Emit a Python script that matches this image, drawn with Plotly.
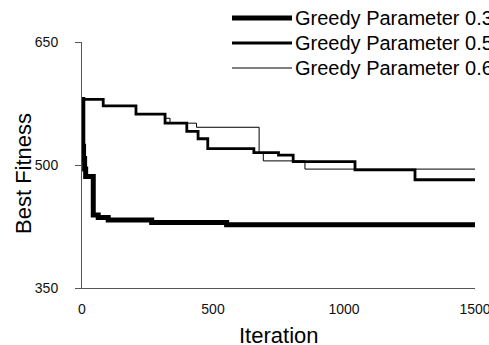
import plotly.graph_objects as go

# ---- data (step-change points) ----
series_names = ["Greedy Parameter 0.3", "Greedy Parameter 0.5", "Greedy Parameter 0.6"]

iter_03 = [0, 3, 6, 10, 14, 43, 62, 100, 266, 552, 1500]
fit_03 = [580, 523, 508, 495, 486, 439, 436, 433, 430, 427, 427]

iter_05 = [0, 81, 206, 317, 400, 443, 480, 656, 750, 806, 1042, 1271, 1500]
fit_05 = [580, 572, 562, 551, 541, 532, 520, 515, 512, 504, 494, 482, 482]

iter_06 = [0, 81, 206, 317, 336, 437, 676, 692, 851, 1500]
fit_06 = [580, 572, 562, 557, 551, 546, 515, 505, 495, 495]

x_ticks = [0, 500, 1000, 1500]
y_ticks = [350, 500, 650]

x_title = "Iteration"
y_title = "Best Fitness"

widths = [5, 2.8, 1]

W, H = 489, 345
L, R, T, B = 82, 14, 42, 57
pw, ph = W - L - R, H - T - B

fig = go.Figure()
for name, xs, ys, w in zip(series_names, [iter_03, iter_05, iter_06],
                           [fit_03, fit_05, fit_06], widths):
    fig.add_trace(go.Scatter(x=xs, y=ys, mode="lines", name=name,
                             line=dict(color="black", width=w, shape="hv"),
                             showlegend=False, cliponaxis=False))


def px_to_paper(px, py):
    return (px - L) / pw, (H - B - py) / ph


title_font = dict(family="Liberation Sans, Arial", size=22, color="black")

# custom legend (long line samples as in the reference)
legend_rows = [18, 43, 68]
for name, w, ry in zip(series_names, widths, legend_rows):
    x0, y0 = px_to_paper(232, ry)
    x1, _ = px_to_paper(292, ry)
    fig.add_shape(type="line", xref="paper", yref="paper", x0=x0, x1=x1, y0=y0, y1=y0,
                  line=dict(color="black", width=w))
    tx, _ = px_to_paper(293, ry)
    fig.add_annotation(xref="paper", yref="paper", x=tx, y=y0, text=name,
                       showarrow=False, xanchor="left", yanchor="middle",
                       font=dict(family="Liberation Sans, Arial", size=20, color="black"))

# axis titles
ax_x, ax_y = px_to_paper(279, 335)
fig.add_annotation(xref="paper", yref="paper", x=ax_x, y=ax_y, text=x_title,
                   showarrow=False, xanchor="center", yanchor="middle", font=title_font)
ay_x, ay_y = px_to_paper(23, 173)
fig.add_annotation(xref="paper", yref="paper", x=ay_x, y=ay_y, text=y_title, textangle=-90,
                   showarrow=False, xanchor="center", yanchor="middle", font=title_font)

tick_font = dict(family="Liberation Sans, Arial", size=14, color="#111")

fig.update_layout(
    width=W, height=H,
    margin=dict(l=L, r=R, t=T, b=B, pad=0, autoexpand=False),
    plot_bgcolor="white", paper_bgcolor="white",
    xaxis=dict(range=[0, 1500], tickvals=x_ticks, ticks="", showgrid=False, zeroline=False,
               showline=True, linecolor="#555", linewidth=1, tickfont=tick_font,
               ticklabelstandoff=8, automargin=False, ticklabeloverflow="allow"),
    yaxis=dict(range=[350, 650], tickvals=y_ticks, ticks="outside", ticklen=6, tickcolor="#555",
               showgrid=False, zeroline=False, showline=True, linecolor="#555", linewidth=1,
               tickfont=tick_font, ticklabelstandoff=14, automargin=False,
               ticklabeloverflow="allow"),
)

fig.write_html("out.html", config={"displayModeBar": False},
               post_script="document.body.style.margin='0';document.body.style.overflow='hidden';")
